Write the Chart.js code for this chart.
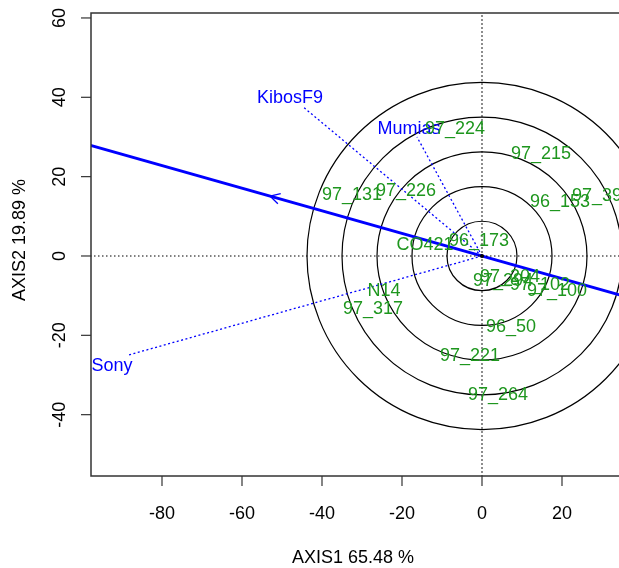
<!DOCTYPE html>
<html>
<head>
<meta charset="utf-8">
<script src="https://cdn.jsdelivr.net/npm/chart.js@4.4.1/dist/chart.umd.min.js"></script>
<style>
body { margin: 0; background: #fff; }
#biplot { display: block; }
</style>
</head>
<body>
<canvas id="biplot" width="619" height="568"></canvas>
<script>
// genotype scores (AXIS1, AXIS2)
const genotypes = ["97_224", "97_215", "97_39", "96_153", "97_131", "97_226", "CO421", "96_173",
    "97_204", "97_294", "97_102", "97_100", "N14", "97_317", "96_50", "97_221", "97_264"];
const genoX = [-6.75, 14.75, 28.75, 19.5, -32.5, -19.0, -14.25, -0.75,
    7.0, 5.25, 14.5, 18.75, -24.5, -27.25, 7.25, -3.0, 4.0];
const genoY = [32.0, 25.7, 15.1, 13.6, 15.4, 16.4, 2.8, 3.8,
    -5.3, -6.3, -7.3, -8.8, -8.8, -13.4, -17.9, -25.2, -35.0];

// environment vectors
const environments = ["KibosF9", "Mumias", "Sony"];
const envX = [-44.75, -16.25, -88.5];
const envY = [37.6, 30.0, -25.0];

// concentric circles and average environment axis
const circleRadii = [8.75, 17.5, 26.25, 35, 43.75];
const aeaX = [-100, 40];
const aeaY = [28.5, -11.4];
const arrowAt = { x: -53, y: 15.1 };

const xTicks = [-80, -60, -40, -20, 0, 20];
const yTicks = [-40, -20, 0, 20, 40, 60];
const xTitle = "AXIS1 65.48 %";
const yTitle = "AXIS2 19.89 %";

const BLUE = "#0000ff";
const GREEN = "#1e961e";
const FONT = '18px "Liberation Sans", Arial, sans-serif';

// label nudges in pixels (text sits just past the end of each vector)
const envLabelShift = [[-13, -9], [-8, -8], [-16, 11]];

const datasets = [];

// dotted zero lines
datasets.push({
    data: [{ x: 0, y: -100 }, { x: 0, y: 100 }],
    showLine: true, borderColor: "#000", borderWidth: 1.2, borderDash: [1.5, 2.5], pointRadius: 0
});
datasets.push({
    data: [{ x: -150, y: 0 }, { x: 100, y: 0 }],
    showLine: true, borderColor: "#000", borderWidth: 1.2, borderDash: [1.5, 2.5], pointRadius: 0
});

// environment vectors
environments.forEach((e, i) => {
    datasets.push({
        data: [{ x: 0, y: 0 }, { x: envX[i], y: envY[i] }],
        showLine: true, borderColor: BLUE, borderWidth: 1.3, borderDash: [2, 2.5], pointRadius: 0
    });
});

// average environment axis
datasets.push({
    data: aeaX.map((x, i) => ({ x: x, y: aeaY[i] })),
    showLine: true, borderColor: BLUE, borderWidth: 3, pointRadius: 0
});

// genotype positions (labels drawn by plugin)
const genoIndex = datasets.length;
datasets.push({
    data: genoX.map((x, i) => ({ x: x, y: genoY[i] })),
    pointRadius: 0, showLine: false
});

const biplotPlugin = {
    id: "biplot",
    beforeDatasetsDraw(chart) {
        const ctx = chart.ctx;
        const xs = chart.scales.x, ys = chart.scales.y;
        const a = chart.chartArea;
        const cx = xs.getPixelForValue(0), cy = ys.getPixelForValue(0);
        ctx.save();
        ctx.beginPath();
        ctx.rect(a.left, a.top, a.right - a.left, a.bottom - a.top);
        ctx.clip();
        ctx.strokeStyle = "#000";
        ctx.lineWidth = 1.2;
        circleRadii.forEach(r => {
            const rx = Math.abs(xs.getPixelForValue(r) - cx);
            const ry = Math.abs(ys.getPixelForValue(r) - cy);
            ctx.beginPath();
            ctx.ellipse(cx, cy, rx, ry, 0, 0, Math.PI * 2);
            ctx.stroke();
        });
        ctx.restore();
    },
    afterDatasetsDraw(chart) {
        const ctx = chart.ctx;
        const xs = chart.scales.x, ys = chart.scales.y;
        const a = chart.chartArea;

        ctx.save();
        ctx.font = FONT;
        ctx.textAlign = "center";
        ctx.textBaseline = "middle";

        // arrow head on the axis
        const tx = xs.getPixelForValue(arrowAt.x), ty = ys.getPixelForValue(arrowAt.y);
        const ang = Math.atan2(ys.getPixelForValue(aeaY[1]) - ys.getPixelForValue(aeaY[0]),
            xs.getPixelForValue(aeaX[1]) - xs.getPixelForValue(aeaX[0]));
        ctx.strokeStyle = BLUE;
        ctx.lineWidth = 1.3;
        [-0.5, 0.5].forEach(d => {
            ctx.beginPath();
            ctx.moveTo(tx, ty);
            ctx.lineTo(tx + 11 * Math.cos(ang + d), ty + 11 * Math.sin(ang + d));
            ctx.stroke();
        });

        // origin mark
        ctx.fillStyle = "#000";
        ctx.beginPath();
        ctx.arc(xs.getPixelForValue(0), ys.getPixelForValue(0), 2, 0, Math.PI * 2);
        ctx.fill();

        // environment labels
        ctx.fillStyle = BLUE;
        environments.forEach((e, i) => {
            ctx.fillText(e, xs.getPixelForValue(envX[i]) + envLabelShift[i][0],
                ys.getPixelForValue(envY[i]) + envLabelShift[i][1]);
        });

        // genotype labels
        ctx.fillStyle = GREEN;
        chart.getDatasetMeta(genoIndex).data.forEach((pt, i) => {
            ctx.fillText(genotypes[i], pt.x, pt.y);
        });

        // box
        ctx.strokeStyle = "#333";
        ctx.lineWidth = 1.5;
        ctx.strokeRect(a.left, a.top, a.right - a.left + 20, a.bottom - a.top);

        // ticks and tick labels
        ctx.fillStyle = "#000";
        ctx.lineWidth = 1.2;
        xTicks.forEach(v => {
            const px = xs.getPixelForValue(v);
            ctx.beginPath();
            ctx.moveTo(px, a.bottom);
            ctx.lineTo(px, a.bottom + 10);
            ctx.stroke();
            ctx.fillText(String(v), px, 514);
        });
        yTicks.forEach(v => {
            const py = ys.getPixelForValue(v);
            ctx.beginPath();
            ctx.moveTo(a.left, py);
            ctx.lineTo(a.left - 10, py);
            ctx.stroke();
            ctx.save();
            ctx.translate(60, py);
            ctx.rotate(-Math.PI / 2);
            ctx.fillText(String(v), 0, 0);
            ctx.restore();
        });

        // axis titles
        ctx.fillText(xTitle, 353, 558);
        ctx.save();
        ctx.translate(20, 240);
        ctx.rotate(-Math.PI / 2);
        ctx.fillText(yTitle, 0, 0);
        ctx.restore();

        ctx.restore();
    }
};

new Chart(document.getElementById("biplot"), {
    type: "scatter",
    data: { datasets: datasets },
    options: {
        responsive: false,
        animation: false,
        layout: { padding: { top: 13, right: 0, left: 0, bottom: 0 } },
        plugins: { legend: { display: false }, tooltip: { enabled: false } },
        scales: {
            x: {
                type: "linear", min: -97.75, max: 34.25,
                ticks: { display: false }, grid: { display: false }, border: { display: false },
                afterFit(scale) { scale.height = 92; }
            },
            y: {
                type: "linear", min: -55.46, max: 61.25,
                ticks: { display: false }, grid: { display: false }, border: { display: false },
                afterFit(scale) { scale.width = 91; }
            }
        }
    },
    plugins: [biplotPlugin]
});
</script>
</body>
</html>
